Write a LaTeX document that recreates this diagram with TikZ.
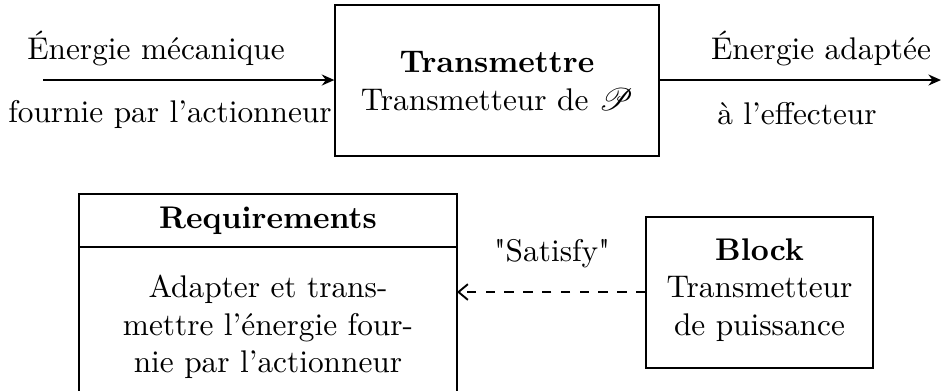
\documentclass[tikz,border=0pt]{standalone}
\usepackage{mathrsfs}
\usetikzlibrary{arrows.meta}
\begin{document}
\begin{tikzpicture}[x=0.319pt,y=-0.319pt,
  box/.style={draw,line width=0.4pt,inner sep=0pt},
  flow/.style={-{Stealth[length=4pt,width=3.5pt]},line width=0.8pt},
  sat/.style={dashed,-{Straight Barb[length=3pt,width=5pt]},line width=0.6pt},
  lbl/.style={inner sep=0pt,align=center}]
\useasboundingbox (0,0) rectangle (941,390);
\clip (0,0) rectangle (941,390);
% top block
\node[box,minimum width=324*0.319pt,minimum height=151*0.319pt] (tr) at (497,80.5) {};
\node[lbl] (trt) at (497,81) {\textbf{Transmettre}\\Transmetteur de $\mathscr{P}$};
\coordinate (in) at (43,80);
\coordinate (out) at (941,80);
\draw[flow] (in) -- (tr.west |- in);
\draw[flow] (tr.east |- out) -- (out);
\node[lbl] (e1) at (156,48) {Énergie mécanique};
\node[lbl] (e2) at (170,114) {fournie par l'actionneur};
\node[lbl] (s1) at (821,48) {Énergie adaptée};
\node[lbl] (s2) at (797,114) {à l'effecteur};
% requirements
\coordinate (rtl) at (79,194);
\coordinate (rtr) at (457,194);
\coordinate (rbl) at (79,400);
\coordinate (rbr) at (457,400);
\draw[line width=0.4pt] (rbl) -- (rtl) -- (rtr) -- (rbr);
\coordinate (dl) at (79,247);
\coordinate (dr) at (457,247);
\draw[line width=0.6pt] (dl) -- (dr);
\node[lbl] (rq) at (268,221) {\textbf{Requirements}};
\node[lbl] (rb) at (268,327) {Adapter et trans-\\mettre l'énergie four-\\nie par l'actionneur};
% block
\node[box,minimum width=227*0.319pt,minimum height=151*0.319pt] (bl) at (759.5,292.5) {};
\node[lbl] (blt) at (759.5,290) {\textbf{Block}\\Transmetteur\\de puissance};
\coordinate (sa) at (457,292);
\draw[sat] (bl.west |- sa) -- (sa);
\node[lbl] (st) at (552,254) {\textquotedbl Satisfy\textquotedbl};
\end{tikzpicture}
\end{document}
